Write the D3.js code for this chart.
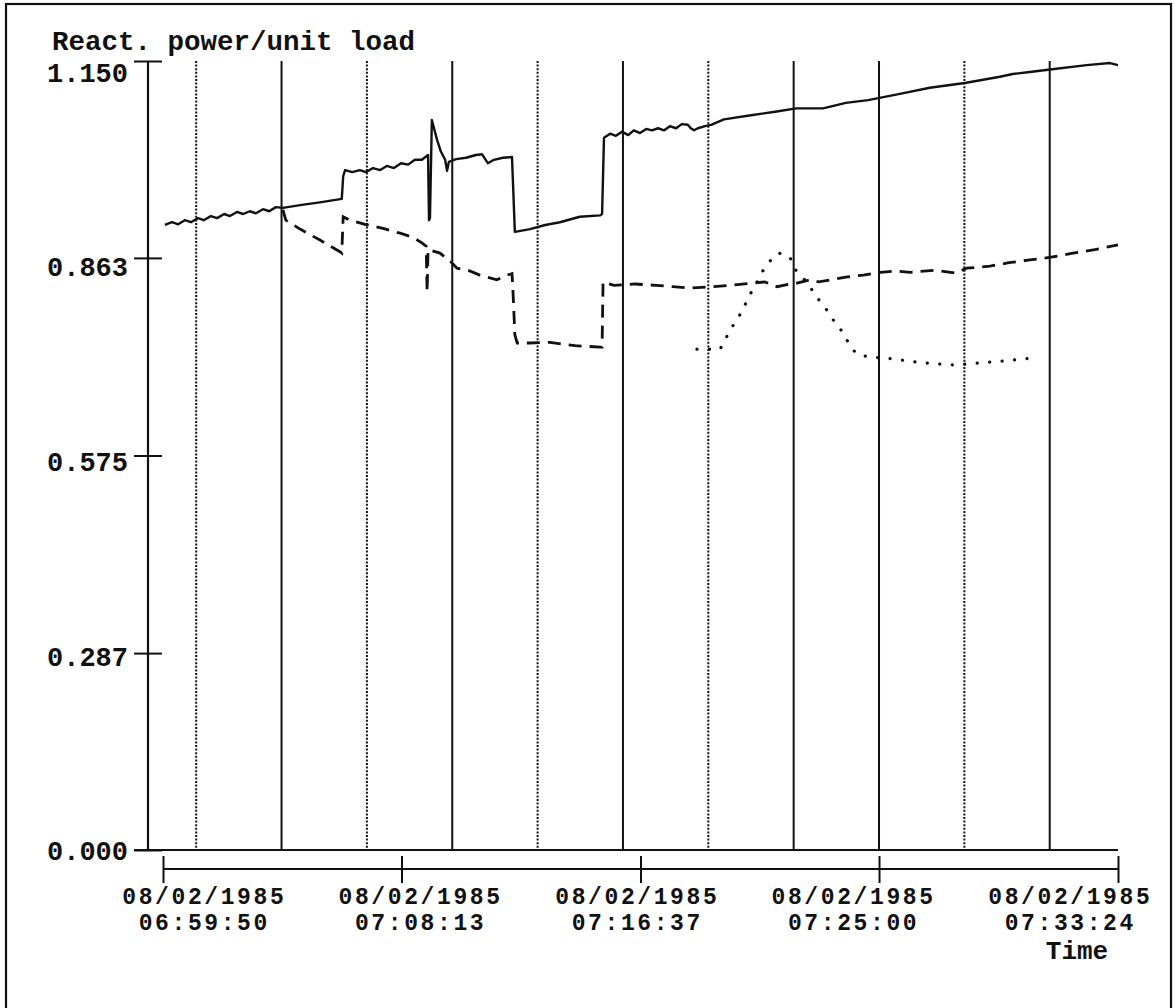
<!DOCTYPE html>
<html lang="en">
<head>
    <meta charset="UTF-8">
    <script src="https://d3js.org/d3.v7.min.js"></script>
    <title>React. power/unit load</title>
    <style>
        body { margin: 0; background: #fff; }
        text { font-family: "Liberation Mono", "DejaVu Sans Mono", monospace; font-weight: bold; fill: #111; }
    </style>
</head>
<body>
    <svg width="1175" height="1008" id="chart"></svg>
    <script>
        // ---- data ----
        const dateLabel = "08/02/1985";
        const xTickTimes = ["06:59:50", "07:08:13", "07:16:37", "07:25:00", "07:33:24"];
        const yTickValues = [0, 0.287, 0.575, 0.863, 1.150];
        const yTickLabels = ["0.000", "0.287", "0.575", "0.863", "1.150"];

        // vertical grid (every 3 min), some drawn solid, some dotted
        const solidGrid = ["07:04:00", "07:10:00", "07:16:00", "07:22:00", "07:25:00", "07:31:00"];
        const dottedGrid = ["07:01:00", "07:07:00", "07:13:00", "07:19:00", "07:28:00"];

        // solid trace
        const solidSeries = [
            ["06:59:54",0.911],["07:00:09",0.915],["07:00:22",0.912],["07:00:36",0.918],["07:00:49",0.915],
            ["07:01:04",0.921],["07:01:16",0.918],["07:01:31",0.924],["07:01:44",0.921],["07:01:59",0.927],
            ["07:02:11",0.924],["07:02:26",0.930],["07:02:39",0.927],["07:02:53",0.931],["07:03:06",0.928],
            ["07:03:21",0.934],["07:03:34",0.931],["07:03:48",0.937],["07:04:03",0.936],["07:04:39",0.940],
            ["07:05:21",0.944],["07:06:07",0.949],["07:06:10",0.982],["07:06:14",0.991],["07:06:29",0.988],
            ["07:06:45",0.991],["07:06:58",0.988],["07:07:13",0.994],["07:07:28",0.991],["07:07:42",0.997],
            ["07:07:57",0.994],["07:08:12",1.001],["07:08:27",0.999],["07:08:41",1.006],["07:08:56",1.006],
            ["07:09:09",1.013],["07:09:11",0.918],["07:09:13",0.921],["07:09:17",1.064],["07:09:28",1.035],
            ["07:09:36",1.018],["07:09:45",1.006],["07:09:49",0.990],["07:09:53",1.003],["07:10:08",1.007],
            ["07:10:29",1.009],["07:10:50",1.013],["07:11:03",1.014],["07:11:15",1.001],["07:11:28",1.006],
            ["07:11:47",1.009],["07:12:06",1.010],["07:12:12",0.901],["07:12:44",0.905],["07:13:16",0.911],
            ["07:13:47",0.915],["07:14:29",0.923],["07:15:12",0.925],["07:15:16",0.927],["07:15:20",1.038],
            ["07:15:33",1.044],["07:15:45",1.041],["07:15:58",1.047],["07:16:11",1.042],["07:16:23",1.049],
            ["07:16:36",1.045],["07:16:49",1.051],["07:17:01",1.049],["07:17:14",1.052],["07:17:27",1.049],
            ["07:17:39",1.055],["07:17:52",1.052],["07:18:04",1.058],["07:18:17",1.057],["07:18:23",1.052],
            ["07:18:30",1.049],["07:18:38",1.052],["07:18:53",1.055],["07:19:06",1.057],["07:19:33",1.065],
            ["07:20:30",1.071],["07:21:21",1.076],["07:22:05",1.081],["07:23:02",1.081],["07:23:50",1.089],
            ["07:24:37",1.093],["07:25:44",1.102],["07:26:47",1.111],["07:28:01",1.118],["07:29:15",1.127],
            ["07:29:42",1.131],["07:30:18",1.134],["07:31:05",1.138],["07:32:18",1.144],["07:33:07",1.147],
            ["07:33:24",1.144]
        ];

        // dashed trace
        const dashedSeries = [
            ["07:04:03",0.933],["07:04:09",0.918],["07:04:39",0.905],["07:05:21",0.889],["07:06:03",0.872],
            ["07:06:07",0.870],["07:06:10",0.923],["07:06:24",0.918],["07:06:56",0.912],["07:07:34",0.906],
            ["07:08:10",0.899],["07:08:37",0.893],["07:08:56",0.885],["07:09:05",0.880],["07:09:07",0.813],
            ["07:09:09",0.875],["07:09:34",0.870],["07:09:59",0.856],["07:10:10",0.848],["07:10:37",0.844],
            ["07:10:58",0.838],["07:11:34",0.831],["07:11:51",0.837],["07:12:06",0.840],["07:12:08",0.816],
            ["07:12:12",0.751],["07:12:17",0.739],["07:12:44",0.739],["07:13:26",0.740],["07:14:19",0.735],
            ["07:15:12",0.733],["07:15:16",0.733],["07:15:18",0.828],["07:15:41",0.823],["07:16:25",0.825],
            ["07:17:10",0.823],["07:17:45",0.821],["07:18:21",0.819],["07:19:06",0.821],["07:19:46",0.823],
            ["07:20:30",0.826],["07:20:59",0.828],["07:21:25",0.821],["07:21:52",0.825],["07:22:05",0.826],
            ["07:22:34",0.831],["07:22:53",0.828],["07:23:25",0.832],["07:23:50",0.835],["07:24:27",0.838],
            ["07:25:03",0.842],["07:25:35",0.844],["07:26:06",0.842],["07:26:58",0.845],["07:27:42",0.841],
            ["07:28:05",0.848],["07:28:54",0.851],["07:29:34",0.856],["07:30:18",0.860],["07:31:03",0.864],
            ["07:31:49",0.870],["07:32:35",0.875],["07:33:24",0.882]
        ];

        // dotted trace
        const dottedSeries = [
            ["07:18:36",0.730],["07:19:25",0.730],["07:19:37",0.746],["07:19:50",0.762],["07:20:05",0.778],
            ["07:20:17",0.794],["07:20:30",0.812],["07:20:43",0.828],["07:20:55",0.844],["07:21:12",0.860],
            ["07:21:29",0.870],["07:21:52",0.864],["07:22:05",0.845],["07:22:22",0.832],["07:22:39",0.816],
            ["07:22:53",0.802],["07:23:10",0.787],["07:23:25",0.771],["07:23:42",0.756],["07:23:55",0.740],
            ["07:24:11",0.724],["07:24:35",0.719],["07:25:27",0.716],["07:26:20",0.711],["07:27:13",0.708],
            ["07:27:40",0.707],["07:28:35",0.710],["07:29:28",0.713],["07:30:22",0.717]
        ];

        // ---- drawing ----
        const parseT = d3.timeParse("%H:%M:%S");
        let svg = d3.select("#chart");

        const x = d3.scaleTime()
            .domain([parseT(xTickTimes[0]), parseT(xTickTimes[xTickTimes.length - 1])])
            .range([163, 1118]);
        // the plotter spaced its time labels a bit tighter than its tick marks
        const xLabel = d3.scaleTime().domain(x.domain()).range([203, 1069]);

        const y = d3.scaleLinear().domain([0, 1.15]).range([850, 61]);
        const yLabel = d3.scaleLinear().domain([0, 1.15]).range([850, 72]);

        // outer frame
        svg.append("rect")
            .attr("x", 6).attr("y", 4)
            .attr("width", 1165).attr("height", 1030)
            .attr("fill", "none")
            .attr("style", "stroke: #111; stroke-width: 2.2");

        // vertical grid lines
        svg.selectAll(".gridSolid")
            .data(solidGrid)
            .join("line")
            .attr("x1", d => x(parseT(d))).attr("x2", d => x(parseT(d)))
            .attr("y1", y(1.15)).attr("y2", y(0))
            .attr("style", "stroke: #111; stroke-width: 2");

        svg.selectAll(".gridDot")
            .data(dottedGrid)
            .join("line")
            .attr("x1", d => x(parseT(d))).attr("x2", d => x(parseT(d)))
            .attr("y1", y(1.15)).attr("y2", y(0))
            .attr("style", "stroke: #111; stroke-width: 2; stroke-dasharray: 2,1.6");

        // y axis: ticks cross the axis line
        let yAxis = svg.append("g")
            .attr("transform", "translate(162,0)")
            .call(d3.axisLeft(y).tickValues(yTickValues).tickSize(28).tickFormat(""));
        yAxis.select(".domain").remove();
        yAxis.selectAll(".tick line").attr("stroke", "#111").attr("stroke-width", 2);

        svg.append("line")
            .attr("x1", 148).attr("x2", 148)
            .attr("y1", y(1.15)).attr("y2", y(0))
            .attr("style", "stroke: #111; stroke-width: 2.2");

        // zero line runs across the plot
        svg.append("line")
            .attr("x1", 134).attr("x2", x.range()[1])
            .attr("y1", y(0)).attr("y2", y(0))
            .attr("style", "stroke: #111; stroke-width: 2.2");

        svg.selectAll(".ylab")
            .data(yTickValues)
            .join("text")
            .attr("x", 128)
            .attr("y", d => yLabel(d))
            .attr("dy", "0.36em")
            .attr("text-anchor", "end")
            .attr("font-size", 27)
            .text((d, i) => yTickLabels[i]);

        // y title
        svg.append("text")
            .attr("x", 52).attr("y", 50)
            .attr("font-size", 27.5)
            .text("React. power/unit load");

        // x axis, drawn below the zero line
        let xAxis = svg.append("g")
            .attr("transform", "translate(0,856)")
            .call(d3.axisBottom(x).tickValues(xTickTimes.map(parseT)).tickSize(27).tickFormat(""));
        xAxis.select(".domain").remove();
        xAxis.selectAll(".tick line").attr("stroke", "#111").attr("stroke-width", 2);

        svg.append("line")
            .attr("x1", x.range()[0]).attr("x2", x.range()[1])
            .attr("y1", 869).attr("y2", 869)
            .attr("style", "stroke: #111; stroke-width: 2.2");

        // two-line tick labels: date over time
        let xl = svg.selectAll(".xlab")
            .data(xTickTimes)
            .join("text")
            .attr("text-anchor", "middle")
            .attr("font-size", 23)
            .attr("letter-spacing", 2.6)
            .attr("y", 904);
        xl.append("tspan")
            .attr("x", d => xLabel(parseT(d)) + 1.3)
            .text(dateLabel);
        xl.append("tspan")
            .attr("x", d => xLabel(parseT(d)) + 1.3)
            .attr("dy", 26)
            .text(d => d);

        svg.append("text")
            .attr("x", 1077).attr("y", 959)
            .attr("text-anchor", "middle")
            .attr("font-size", 26)
            .text("Time");

        // traces
        const line = d3.line()
            .x(d => x(parseT(d[0])))
            .y(d => y(d[1]));

        svg.append("path")
            .datum(solidSeries)
            .attr("d", line)
            .attr("fill", "none")
            .attr("style", "stroke: #111; stroke-width: 2.4; stroke-linejoin: round");

        svg.append("path")
            .datum(dashedSeries)
            .attr("d", line)
            .attr("fill", "none")
            .attr("style", "stroke: #111; stroke-width: 2.8; stroke-dasharray: 13,8");

        svg.append("path")
            .datum(dottedSeries)
            .attr("d", line)
            .attr("fill", "none")
            .attr("style", "stroke: #111; stroke-width: 3.2; stroke-linecap: round; stroke-dasharray: 0.1,12.4");
    </script>
</body>
</html>
